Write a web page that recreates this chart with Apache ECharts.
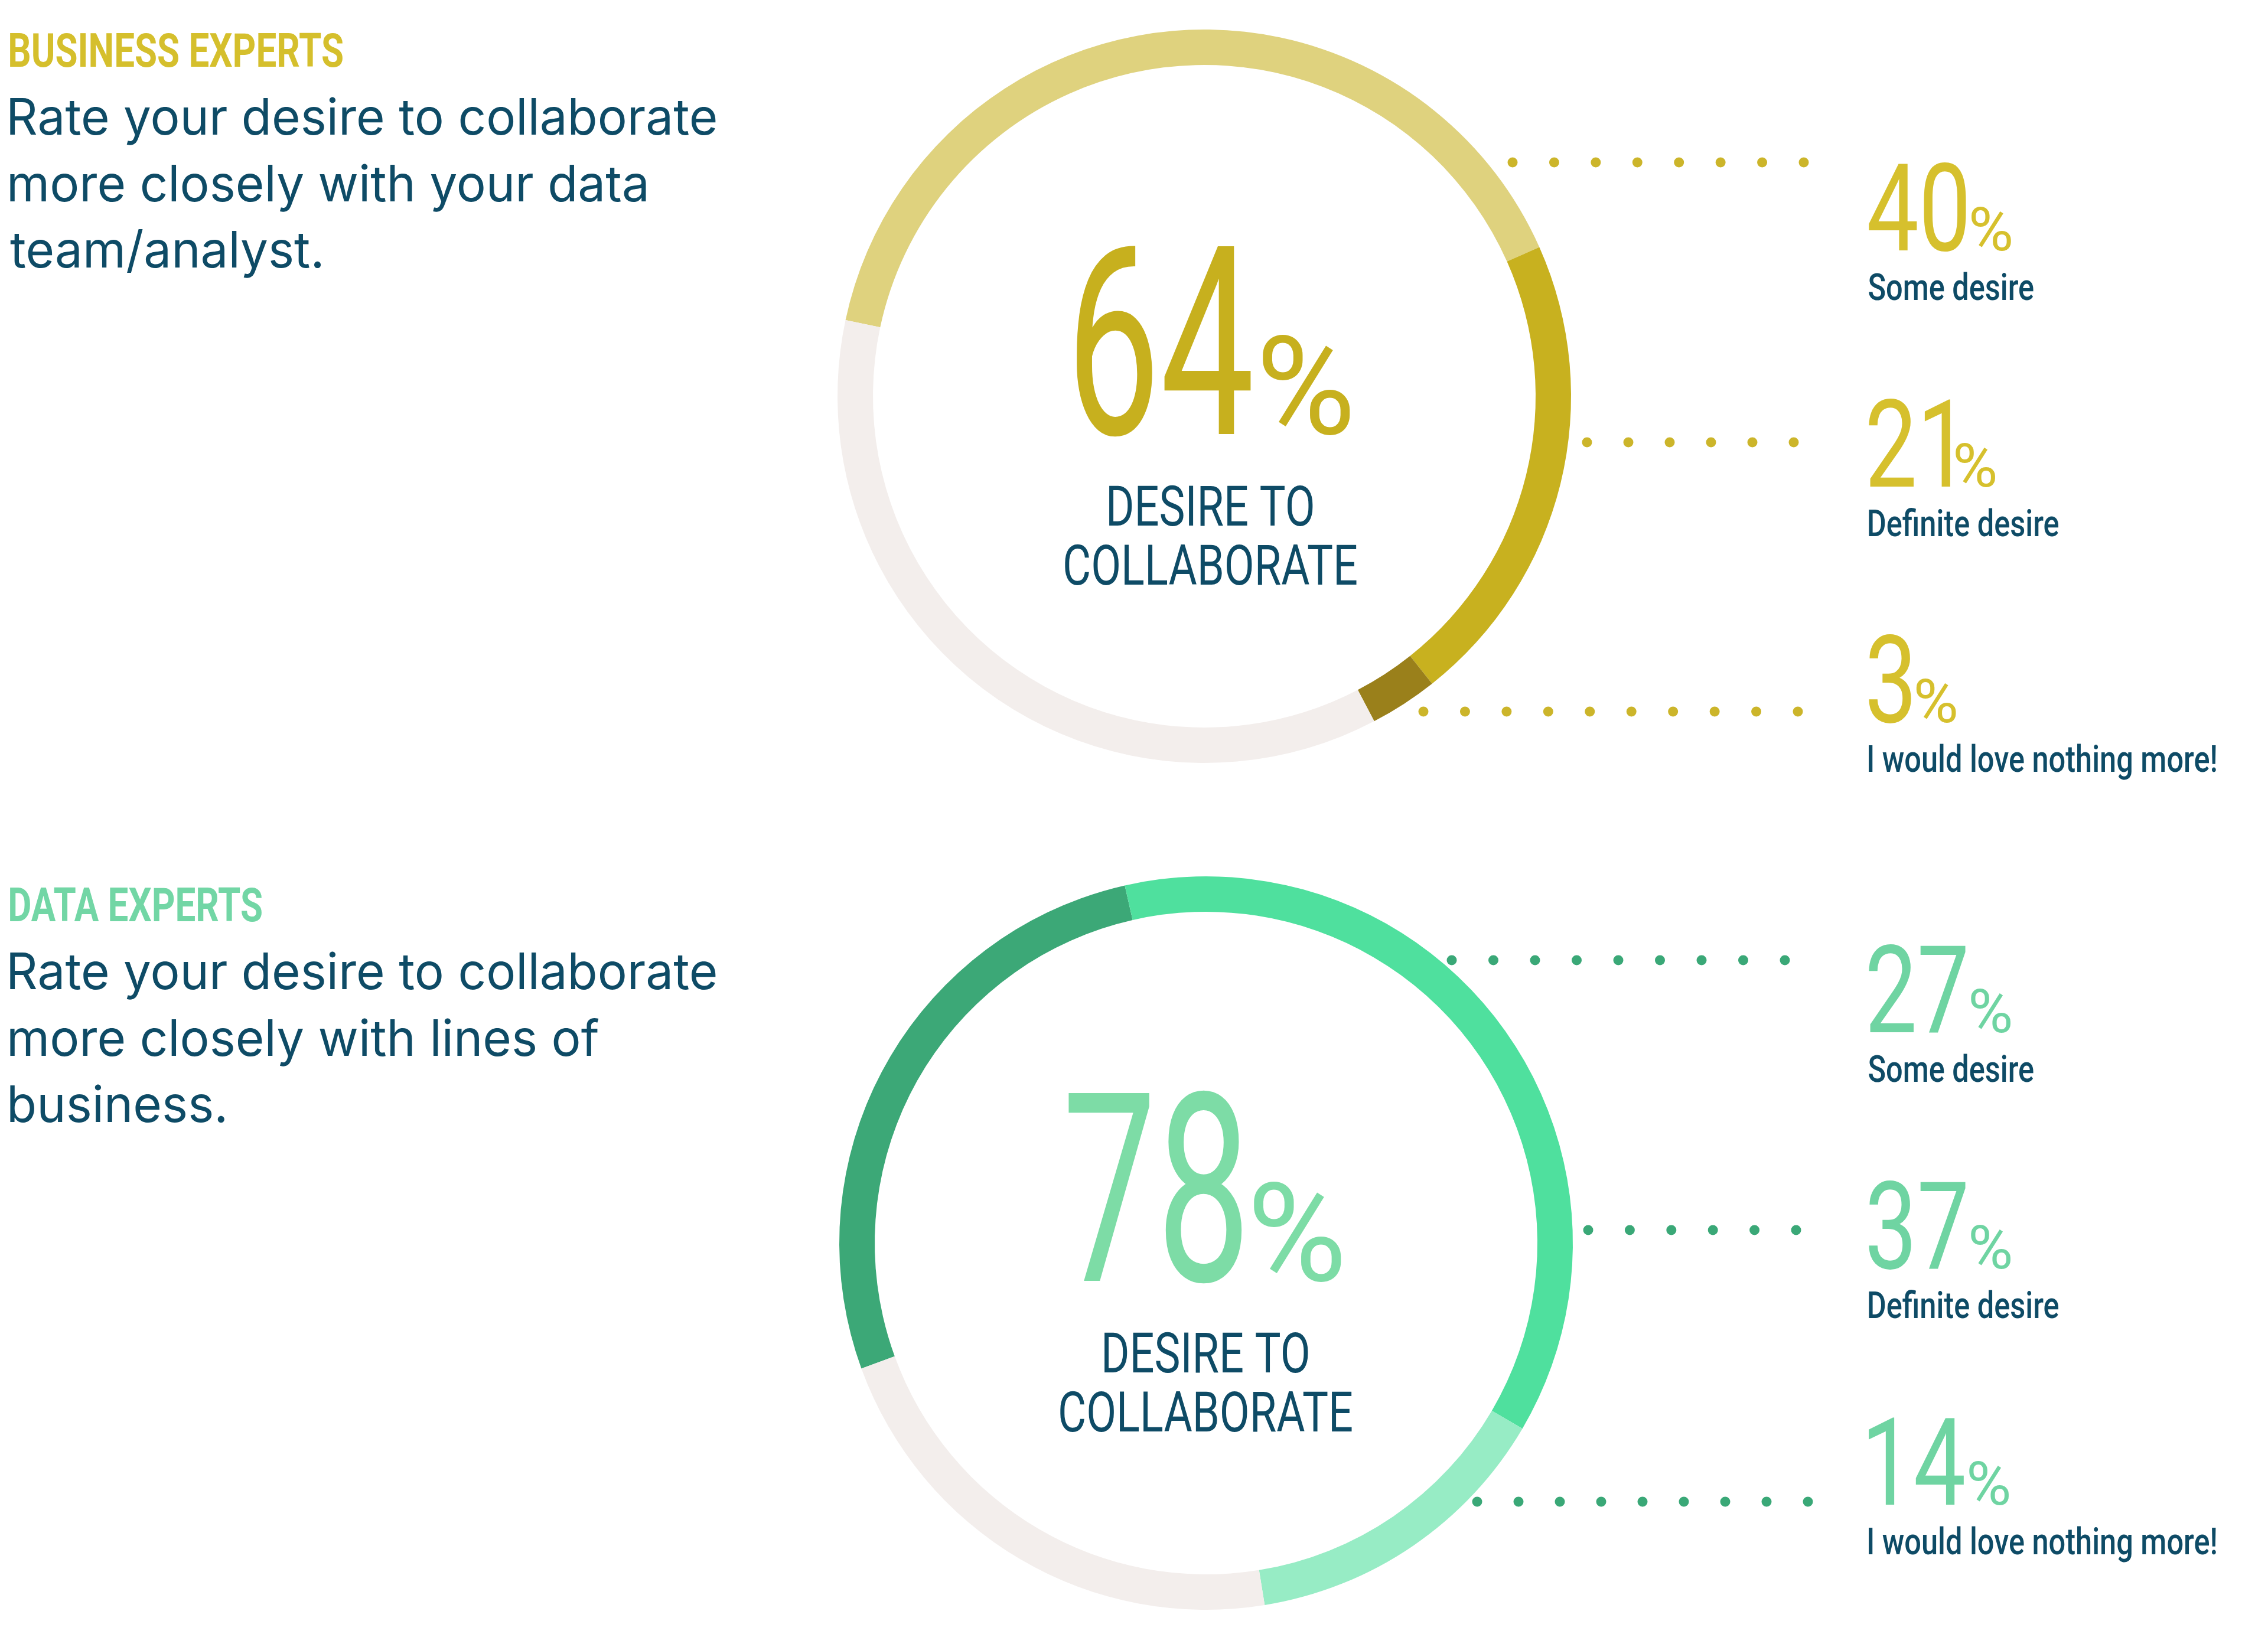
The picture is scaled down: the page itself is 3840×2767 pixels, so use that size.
<!DOCTYPE html>
<html>
<head>
<meta charset="utf-8">
<title>Desire to collaborate</title>
<script src="https://cdn.jsdelivr.net/npm/echarts@6/dist/echarts.min.js"></script>
<style>
  html, body { margin: 0; padding: 0; background: #fff; }
  #chart { width: 3840px; height: 2767px; }
</style>
</head>
<body>
<div id="chart"></div>
<script>
// answer categories, same for both groups
const categories = ['Some desire', 'Definite desire', 'I would love nothing more!'];
// share of respondents (%)
const businessValues = [40, 21, 3];
const dataValues = [27, 37, 14];
const restName = 'Less desire';

const groupTitles = ['BUSINESS EXPERTS', 'DATA EXPERTS'];
const groupQuestions = [
  ['Rate your desire to collaborate', 'more closely with your data', 'team/analyst.'],
  ['Rate your desire to collaborate', 'more closely with lines of', 'business.']
];
const centerCaption = ['DESIRE TO', 'COLLABORATE'];

// layout + colours of the two panels
const panels = [
  {
    values: businessValues, cx: 2039, cy: 671, start: 168, bigX: 2054, capX: 2050,
    ring: ['#dfd27e', '#c8b11f', '#9a801b'], rest: '#f3eeec',
    head: '#d5bf2c', big: '#c7b01e', side: '#d6c02d', dot: '#ccb52a',
    headBase: 113, rowsBase: [424, 824, 1223],
    dots: [[2561, 3054, 8, 275], [2687, 3037, 6, 749], [2410, 3044, 10, 1205]]
  },
  {
    values: dataValues, cx: 2042, cy: 2105, start: 200, bigX: 2039, capX: 2042,
    ring: ['#3ca877', '#4fe09e', '#97ecc5'], rest: '#f3eeec',
    head: '#72d6a5', big: '#7ddca6', side: '#6fd4a2', dot: '#3aa877',
    headBase: 1560, rowsBase: [1748, 2148, 2548],
    dots: [[2458, 3022, 9, 1626], [2689, 3041, 6, 2083], [2501, 3061, 9, 2543]]
  }
];

const navy = '#0e4b66';

// text styles: cap height and width of a reference string decide size and horizontal squeeze
const styles = {
  head:    { family: 'Roboto', weight: 700, cap: 58, ref: 'BUSINESS EXPERTS', refWidth: 563 },
  body:    { family: 'Inter', weight: 400, cap: 62, ref: 'Rate your desire to collaborate', refWidth: 1195 },
  big:     { family: 'Roboto', weight: 400, cap: 322, ref: '64', refWidth: 297 },
  bigPct:  { family: 'Roboto', weight: 400, cap: 167, ref: '%', refWidth: 148, capRef: '%' },
  caption: { family: 'Roboto', weight: 400, cap: 68, ref: 'COLLABORATE', refWidth: 494 },
  num:     { family: 'Roboto', weight: 400, cap: 149, ref: '27', refWidth: 164 },
  numPct:  { family: 'Roboto', weight: 400, cap: 74, ref: '%', refWidth: 67, capRef: '%' },
  label:   { family: 'Roboto', weight: 500, cap: 45, ref: 'I would love nothing more!', refWidth: 588 }
};

const ctx = document.createElement('canvas').getContext('2d');

function prep(s) {
  ctx.textAlign = 'left';
  ctx.textBaseline = 'alphabetic';
  ctx.font = s.weight + ' 100px ' + s.family;
  s.size = s.cap / ctx.measureText(s.capRef || 'H').actualBoundingBoxAscent * 100;
  s.font = s.weight + ' ' + s.size.toFixed(2) + 'px ' + s.family;
  ctx.font = s.font;
  let m = ctx.measureText(s.ref);
  s.sx = s.refWidth / (m.actualBoundingBoxLeft + m.actualBoundingBoxRight);
  let a = ctx.measureText('H').actualBoundingBoxAscent;
  ctx.textBaseline = 'middle';
  // zrender draws with a "middle" baseline; this is how far it sits above the alphabetic one
  s.shift = a - ctx.measureText('H').actualBoundingBoxAscent;
}
Object.values(styles).forEach(prep);

function ink(s, str) {
  ctx.font = s.font;
  ctx.textAlign = 'left';
  ctx.textBaseline = 'alphabetic';
  let m = ctx.measureText(str);
  return { w: (m.actualBoundingBoxLeft + m.actualBoundingBoxRight) * s.sx, l: m.actualBoundingBoxLeft * s.sx };
}

// text with its ink starting at "left" and sitting on "base"
function text(s, str, left, base, fill) {
  let m = ink(s, str);
  return {
    type: 'text', silent: true,
    x: left + m.l, y: base - s.shift, scaleX: s.sx,
    style: { text: str, font: s.font, fill: fill, align: 'left', verticalAlign: 'middle' }
  };
}

let graphics = [];
panels.forEach(function (p, k) {
  // title + question on the left
  graphics.push(text(styles.head, groupTitles[k], 17, p.headBase, p.head));
  groupQuestions[k].forEach(function (line, i) {
    graphics.push(text(styles.body, line, 17, p.headBase + 115 + i * 112.5, navy));
  });

  // big total in the middle of the ring
  let total = p.values.reduce((a, b) => a + b, 0);
  let w1 = ink(styles.big, String(total)).w;
  let w2 = ink(styles.bigPct, '%').w;
  let left = p.bigX - (w1 + 18 + w2) / 2;
  graphics.push(text(styles.big, String(total), left, p.cy + 64, p.big));
  graphics.push(text(styles.bigPct, '%', left + w1 + 18, p.cy + 64, p.big));
  centerCaption.forEach(function (line, i) {
    let w = ink(styles.caption, line).w;
    graphics.push(text(styles.caption, line, p.capX - w / 2, p.cy + 219 + i * 100, navy));
  });

  // side figures
  p.values.forEach(function (v, i) {
    let base = p.rowsBase[i];
    let wn = ink(styles.num, String(v)).w;
    graphics.push(text(styles.num, String(v), 3164, base, p.side));
    graphics.push(text(styles.numPct, '%', 3164 + wn + 9, base, p.side));
    graphics.push(text(styles.label, categories[i], 3164, base + 84, navy));
  });

  // dotted leaders
  p.dots.forEach(function (d) {
    for (let j = 0; j < d[2]; j++) {
      graphics.push({
        type: 'circle', silent: true,
        shape: { cx: d[0] + j * (d[1] - d[0]) / (d[2] - 1), cy: d[3], r: 8.5 },
        style: { fill: p.dot }
      });
    }
  });
});

let chart = echarts.init(document.getElementById('chart'));
let option = {
  backgroundColor: '#ffffff',
  animation: false,
  series: panels.map(function (p) {
    let sum = p.values.reduce((a, b) => a + b, 0);
    return {
      type: 'pie',
      silent: true,
      center: [p.cx, p.cy],
      radius: [561, 621],
      startAngle: p.start,
      clockwise: true,
      label: { show: false },
      labelLine: { show: false },
      itemStyle: { borderWidth: 0 },
      data: p.values.map(function (v, i) {
        return { name: categories[i], value: v, itemStyle: { color: p.ring[i] } };
      }).concat([{ name: restName, value: 100 - sum, itemStyle: { color: p.rest } }])
    };
  }),
  graphic: graphics
};
chart.setOption(option);
</script>
</body>
</html>
